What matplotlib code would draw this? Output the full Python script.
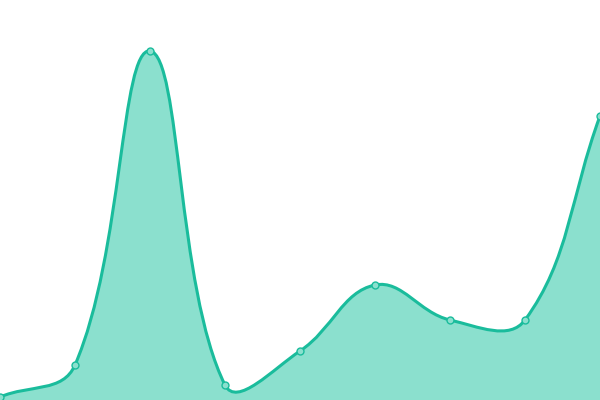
import matplotlib
matplotlib.use("Agg")
import matplotlib.pyplot as plt
from matplotlib.path import Path
from matplotlib.patches import PathPatch
import numpy as np

# data
xs = [0, 75, 150, 225, 300, 375, 450, 525, 600]
values = [3, 35, 349, 15, 49, 115, 80, 80, 284]

line_color = "#1abc9c"
fill_color = "#8be0ce"
tension = 0.4


def spline_controls(px, py, t):
    # chart.js style spline control points
    n = len(px)
    cps = []
    for i in range(n):
        prev = (px[max(i - 1, 0)], py[max(i - 1, 0)])
        cur = (px[i], py[i])
        nxt = (px[min(i + 1, n - 1)], py[min(i + 1, n - 1)])
        d01 = np.hypot(cur[0] - prev[0], cur[1] - prev[1])
        d12 = np.hypot(nxt[0] - cur[0], nxt[1] - cur[1])
        s01 = d01 / (d01 + d12) if d01 + d12 else 0
        s12 = d12 / (d01 + d12) if d01 + d12 else 0
        fa = t * s01
        fb = t * s12
        cp_prev = (cur[0] - fa * (nxt[0] - prev[0]), cur[1] - fa * (nxt[1] - prev[1]))
        cp_next = (cur[0] + fb * (nxt[0] - prev[0]), cur[1] + fb * (nxt[1] - prev[1]))
        cps.append((cp_prev, cp_next))
    return cps


cps = spline_controls(xs, values, tension)
verts = [(xs[0], values[0])]
codes = [Path.MOVETO]
for i in range(1, len(xs)):
    verts += [cps[i - 1][1], cps[i][0], (xs[i], values[i])]
    codes += [Path.CURVE4] * 3

fill_verts = verts + [(xs[-1], 0), (xs[0], 0), (xs[0], values[0])]
fill_codes = codes + [Path.LINETO, Path.LINETO, Path.CLOSEPOLY]

fig = plt.figure(figsize=(6, 4), dpi=100)
ax = fig.add_axes([0, 0, 1, 1])
ax.add_patch(PathPatch(Path(fill_verts, fill_codes), facecolor=fill_color, edgecolor="none"))
ax.add_patch(PathPatch(Path(verts, codes), facecolor="none", edgecolor=line_color, lw=2.2))
ax.plot(xs, values, "o", ms=5, mfc=fill_color, mec=line_color, mew=1)
ax.set_xlim(0, 600)
ax.set_ylim(0, 400)
ax.axis("off")
fig.savefig("out.png", dpi=100)
